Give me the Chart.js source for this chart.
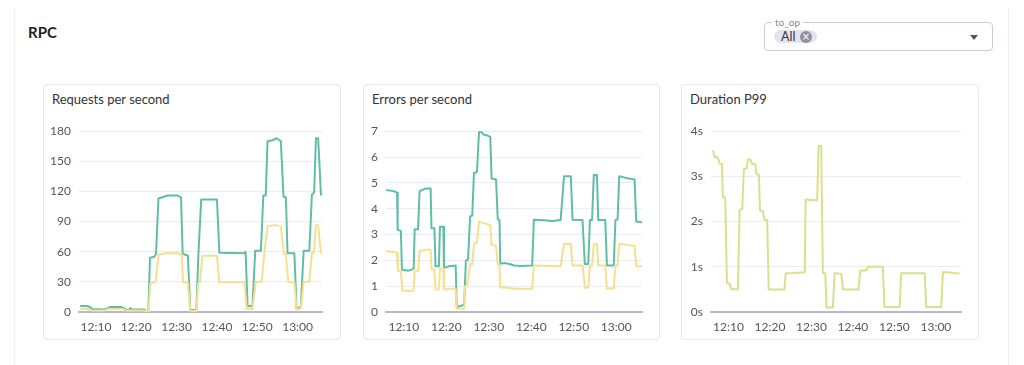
<!DOCTYPE html>
<html>
<head>
<meta charset="utf-8">
<script src="https://cdn.jsdelivr.net/npm/chart.js@4.4.1/dist/chart.umd.min.js"></script>
<style>
  html, body { margin: 0; padding: 0; background: #fff; }
  body { width: 1024px; height: 365px; position: relative; overflow: hidden; font-family: Lato, "Open Sans", sans-serif; }
  .outer { position: absolute; left: 14px; top: 8px; width: 993px; height: 360px; border-left: 1px solid #eeeef3; border-right: 1px solid #eeeef3; }
  .h { position: absolute; left: 28px; top: 23px; font-size: 15px; font-weight: 700; color: #222; }
  .sel { position: absolute; left: 764px; top: 22px; width: 227px; height: 27px; border: 1px solid #c9cce0; border-radius: 4px; box-sizing: content-box; }
  .sel .lab { position: absolute; left: 7px; top: -7px; padding: 0 3px; background: #fff; font-size: 10px; color: #8a8a95; line-height: 12px; }
  .chip { position: absolute; left: 9px; top: 7px; width: 43px; height: 13px; border-radius: 7px; background: #e3e4ed; }
  .chip .t { position: absolute; left: 7px; top: -1px; font-size: 12.5px; color: #333; line-height: 15px; }
  .chip .x { position: absolute; left: 26px; top: 0.5px; width: 12px; height: 12px; border-radius: 6px; background: #8e90a6; color: #fff; font-size: 10px; line-height: 12px; text-align: center; font-family: "DejaVu Sans", sans-serif; }
  .arrow { position: absolute; left: 205px; top: 12px; width: 0; height: 0; border-left: 4.5px solid transparent; border-right: 4.5px solid transparent; border-top: 5px solid #555; }
  .card { position: absolute; top: 84px; height: 254px; border: 1px solid #e6e6ee; border-radius: 4px; background: #fff; }
  .card .ttl { position: absolute; left: 8px; top: 6px; font-size: 13px; color: #333; }
  canvas { position: absolute; }
</style>
</head>
<body>
<div class="outer"></div>
<div class="h">RPC</div>
<div class="sel">
  <div class="lab">to_op</div>
  <div class="chip"><span class="t">All</span><span class="x">×</span></div>
  <div class="arrow"></div>
</div>
<div class="card" style="left:43px;width:296px;"><div class="ttl">Requests per second</div></div>
<div class="card" style="left:363px;width:295px;"><div class="ttl">Errors per second</div></div>
<div class="card" style="left:681px;width:296px;"><div class="ttl">Duration P99</div></div>
<canvas id="c1"></canvas>
<canvas id="c2"></canvas>
<canvas id="c3"></canvas>
<script>
// x values: minutes after 12:00
const xTickValues = [10, 20, 30, 40, 50, 60];
const xTickLabels = ["12:10", "12:20", "12:30", "12:40", "12:50", "13:00"];

// Requests per second
const reqTotalT = [6.1, 7.9, 8.5, 9.1, 12.0, 12.8, 13.4, 16.2, 16.8, 17.6, 18.2, 18.5, 19.1, 22.0, 22.6, 23.0, 23.4, 24.5, 24.9, 25.5, 27.8, 30.3, 31.1, 31.5, 32.8, 33.4, 34.9, 35.4, 36.1, 40.0, 40.6, 46.8, 47.1, 47.6, 48.8, 49.5, 50.9, 51.5, 52.1, 52.55, 53.8, 54.8, 55.85, 56.5, 57.1, 57.5, 59.2, 59.75, 60.8, 61.5, 62.9, 63.55, 64.1, 64.55, 65.1, 65.8];
const reqTotalV = [6, 6, 5, 3, 2.5, 3.5, 5, 5, 4, 2.3, 2, 4, 2.5, 2.5, 0.5, 0.5, 54, 55, 58, 113, 116, 116, 114, 58, 56, 2, 2, 57, 112, 112, 59, 58.5, 60, 6, 6, 61, 61, 116, 116, 170, 171, 173, 170, 115, 114, 58.5, 58.5, 3, 5, 61, 61, 117, 119, 173, 173, 116];
const reqPartT = [6.1, 8.0, 9.0, 12.0, 13.2, 16.5, 17.5, 22.0, 22.8, 23.1, 23.45, 24.8, 25.5, 27.5, 30.3, 31.3, 31.6, 32.8, 33.4, 34.9, 35.35, 35.8, 36.4, 40.0, 40.6, 46.8, 47.4, 48.8, 49.65, 51.1, 51.7, 52.55, 54.5, 55.85, 56.6, 57.1, 57.7, 59.2, 59.75, 60.8, 61.5, 62.9, 63.55, 64.0, 64.55, 65.1, 65.8];
const reqPartV = [3, 3, 1.5, 1.5, 3, 3, 1.5, 1.5, 0.5, 0.5, 28, 30, 57, 58.5, 58.5, 57, 29.5, 29, 1, 1, 29, 30, 56, 56, 29.6, 29.6, 3, 3, 30, 30, 57.5, 85.5, 86.5, 85.5, 57.5, 57.5, 29.6, 29.6, 2.5, 3.5, 30, 30, 58.7, 59, 86.6, 86, 58];

// Errors per second
const errTotalT = [5.85, 7.6, 8.4, 8.55, 9.3, 9.55, 11.1, 12.3, 12.55, 13.35, 13.7, 15.1, 16.3, 16.5, 17.2, 17.45, 18.25, 18.5, 19.3, 19.45, 20.6, 22.2, 22.45, 23.4, 24.2, 24.6, 25.1, 25.6, 26.1, 26.5, 27.2, 27.7, 28.3, 28.75, 29.7, 30.35, 30.65, 31.7, 32.1, 32.5, 32.7, 33.65, 34.8, 36.0, 37.4, 40.2, 40.6, 43.0, 44.95, 46.9, 47.7, 49.3, 49.7, 52.05, 52.6, 53.4, 53.8, 54.3, 54.7, 55.45, 55.75, 57.4, 57.8, 59.4, 59.8, 60.3, 60.7, 62.3, 64.3, 64.7, 66.3];
const errTotalV = [4.72, 4.68, 4.62, 3.18, 3.14, 1.64, 1.6, 1.67, 3.2, 3.2, 4.68, 4.78, 4.78, 3.24, 3.24, 1.77, 1.77, 3.3, 3.3, 1.7, 1.77, 1.8, 0.19, 0.23, 0.3, 2.0, 2.03, 3.7, 3.73, 5.38, 5.42, 7.0, 6.96, 6.87, 6.83, 6.78, 5.17, 5.13, 3.59, 3.56, 1.87, 1.9, 1.86, 1.8, 1.78, 1.8, 3.57, 3.55, 3.52, 3.56, 5.26, 5.26, 3.57, 3.56, 1.86, 1.86, 3.56, 3.56, 5.3, 5.3, 3.56, 3.56, 1.8, 1.8, 3.56, 3.58, 5.26, 5.19, 5.13, 3.5, 3.47];
const errPartT = [5.85, 8.0, 8.4, 8.6, 9.3, 9.65, 11.1, 12.3, 12.55, 13.35, 13.7, 15.1, 16.3, 16.5, 17.2, 17.45, 18.25, 18.5, 19.3, 19.45, 20.9, 22.2, 22.45, 24.2, 24.4, 24.9, 25.6, 26.1, 26.5, 27.2, 27.7, 28.75, 30.35, 30.65, 31.7, 32.1, 32.5, 32.7, 33.65, 36.0, 40.2, 40.6, 46.9, 47.7, 49.3, 49.7, 52.1, 52.6, 53.4, 53.8, 54.3, 54.7, 55.45, 55.75, 57.4, 57.8, 59.4, 59.8, 60.3, 60.7, 62.5, 64.3, 64.7, 66.3];
const errPartV = [2.35, 2.32, 2.28, 1.6, 1.58, 0.83, 0.81, 0.83, 1.58, 1.58, 2.35, 2.41, 2.41, 1.67, 1.64, 0.87, 0.87, 1.67, 1.67, 0.87, 0.9, 0.9, 0.13, 0.13, 1.0, 1.03, 1.86, 1.86, 2.64, 2.67, 3.5, 3.44, 3.37, 2.6, 2.56, 1.83, 1.83, 0.94, 0.96, 0.9, 0.9, 1.8, 1.77, 2.63, 2.63, 1.8, 1.8, 0.94, 0.94, 1.8, 1.8, 2.63, 2.63, 1.8, 1.8, 0.91, 0.91, 1.8, 1.8, 2.63, 2.6, 2.56, 1.77, 1.77];

// Duration P99 (seconds)
const durT = [6.27, 6.67, 7.47, 7.88, 8.43, 8.67, 9.23, 9.64, 10.29, 10.67, 12.3, 12.7, 13.33, 13.73, 14.39, 14.7, 15.25, 15.73, 16.46, 16.8, 17.35, 17.6, 18.3, 18.7, 19.35, 19.7, 23.5, 23.8, 25.1, 28.4, 28.6, 29.95, 31.4, 31.73, 32.36, 32.77, 33.33, 33.66, 35.18, 35.6, 36.4, 37.2, 37.6, 41.37, 41.77, 43.2, 43.6, 47.2, 47.6, 51.25, 51.64, 57.3, 57.66, 61.28, 61.69, 62.9, 64.5, 65.7];
const durV = [3.58, 3.43, 3.42, 3.28, 3.27, 2.54, 2.53, 0.64, 0.63, 0.51, 0.5, 2.26, 2.28, 3.16, 3.18, 3.38, 3.38, 3.28, 3.27, 3.05, 3.03, 2.25, 2.23, 2.04, 2.03, 0.5, 0.5, 0.86, 0.86, 0.88, 2.49, 2.48, 2.47, 3.67, 3.67, 0.86, 0.86, 0.1, 0.1, 0.86, 0.85, 0.84, 0.5, 0.5, 0.92, 0.92, 1.0, 1.0, 0.11, 0.11, 0.86, 0.86, 0.11, 0.11, 0.88, 0.88, 0.86, 0.86];

const X_MIN = 5.8, X_MAX = 66.05;
const TEAL = '#5fbea4', YELLOW = '#f8df8f', OLIVE = '#dadf8c';

function pts(t, v) { return t.map((x, i) => ({ x: x, y: v[i] })); }

function makeChart(id, area, datasets, yMax, yStep, yFmt) {
  const yW = 40, padTop = 14, padRight = 6, xH = 26;
  const cv = document.getElementById(id);
  const w = area.R - area.L + yW + padRight;
  const h = area.B - area.T + padTop + xH;
  cv.width = w; cv.height = h;
  cv.style.left = (area.L - yW) + 'px';
  cv.style.top = (area.T - padTop) + 'px';
  cv.style.width = w + 'px'; cv.style.height = h + 'px';
  new Chart(cv, {
    type: 'line',
    data: { datasets: datasets.map(d => ({
      data: pts(d.t, d.v), borderColor: d.color, borderWidth: 2, pointRadius: 0,
      tension: 0, fill: false, borderJoinStyle: 'round'
    })) },
    options: {
      responsive: false, animation: false, devicePixelRatio: 1,
      layout: { padding: { top: padTop, right: padRight, left: 0, bottom: 0 } },
      plugins: { legend: { display: false }, tooltip: { enabled: false } },
      scales: {
        x: {
          type: 'linear', min: X_MIN, max: X_MAX,
          afterBuildTicks: s => { s.ticks = xTickValues.map(v => ({ value: v })); },
          afterFit: s => { s.height = xH; },
          ticks: { autoSkip: false, maxRotation: 0, padding: 8, color: '#55555f',
            font: { family: 'Lato', size: 12 },
            callback: v => xTickLabels[xTickValues.indexOf(v)] },
          grid: { display: false, drawTicks: false },
          border: { display: true, color: '#b9b8d2', width: 2 }
        },
        y: {
          min: 0, max: yMax,
          afterFit: s => { s.width = yW; },
          ticks: { stepSize: yStep, padding: 8, color: '#55555f',
            font: { family: 'Lato', size: 12 }, callback: yFmt },
          grid: { color: '#ebebf2', lineWidth: 1, drawTicks: false },
          border: { display: false }
        }
      }
    }
  });
}

makeChart('c1', { L: 79, R: 322, T: 130, B: 312 }, [
  { t: reqPartT, v: reqPartV, color: YELLOW },
  { t: reqTotalT, v: reqTotalV, color: TEAL }
], 180, 30, v => String(v));

makeChart('c2', { L: 386, R: 642, T: 130, B: 312 }, [
  { t: errPartT, v: errPartV, color: YELLOW },
  { t: errTotalT, v: errTotalV, color: TEAL }
], 7, 1, v => String(v));

makeChart('c3', { L: 711, R: 961, T: 130, B: 312 }, [
  { t: durT, v: durV, color: OLIVE }
], 4, 1, v => v + 's');
</script>
</body>
</html>
